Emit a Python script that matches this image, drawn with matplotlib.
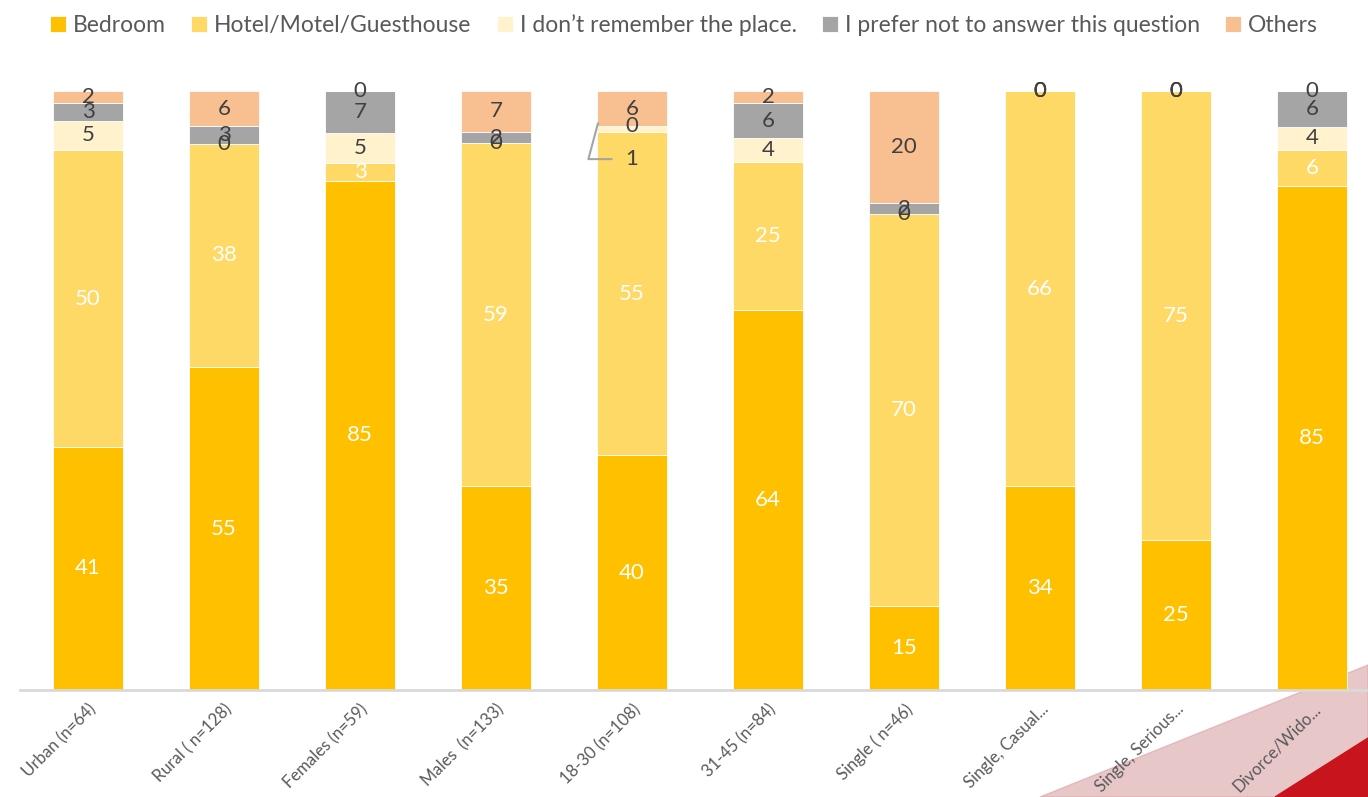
import matplotlib.pyplot as plt
from matplotlib.patches import Polygon
import numpy as np

plt.rcParams['font.family'] = ['Lato', 'DejaVu Sans']

# Dados
grupos = ["Urban (n=64)", "Rural ( n=128)", "Females (n=59)", "Males  (n=133)",
          "18-30 (n=108)", "31-45 (n=84)", "Single ( n=46)", "Single, Casual...",
          "Single, Serious...", "Divorce/Wido..."]
series = ["Bedroom", "Hotel/Motel/Guesthouse", "I don\u2019t remember the place.",
          "I prefer not to answer this question", "Others"]
bedroom = [41, 55, 85, 35, 40, 64, 15, 34, 25, 85]
hotel = [50, 38, 3, 59, 55, 25, 70, 66, 75, 6]
nao_lembra = [5, 0, 5, 0, 1, 4, 0, 0, 0, 4]
prefiro_nao = [3, 3, 7, 2, 0, 6, 2, 0, 0, 6]
outros = [2, 6, 0, 7, 6, 2, 20, 0, 0, 0]

cores = ["#FFC000", "#FFD966", "#FFF2CC", "#A5A5A5", "#F8BF91"]
cor_rotulo = ["white", "white", "#404040", "#404040", "#404040"]

valores = np.array([bedroom, hotel, nao_lembra, prefiro_nao, outros], dtype=float)
totais = valores.sum(axis=0)
perc = valores / totais * 100

fig = plt.figure(figsize=(13.68, 7.97), dpi=100)

# decoracao do slide (canto inferior direito)
W, H = 1368, 797
def px(pts):
    return [(x / W, 1 - y / H) for x, y in pts]
fig.patches.append(Polygon(px([(1040, 797), (1368, 665), (1368, 797)]), closed=True,
                           transform=fig.transFigure, color="#D9A3A6", alpha=0.6, zorder=-5))
fig.patches.append(Polygon(px([(1275, 797), (1368, 738), (1368, 797)]), closed=True,
                           transform=fig.transFigure, color="#C8141C", zorder=-4))

ax = fig.add_axes([20 / W, (H - 690) / H, 1360 / W, 599 / H])
ax.patch.set_alpha(0)

x = np.arange(len(grupos))
base = np.zeros(len(grupos))
for i, nome in enumerate(series):
    ax.bar(x, perc[i], 0.51, bottom=base, color=cores[i], label=nome,
           edgecolor="white", linewidth=0.6, zorder=2)
    for j in range(len(grupos)):
        # rotulo deslocado com linha guia (18-30, "1")
        if i == 2 and j == 4:
            ax.annotate(str(int(valores[i, j])), xy=(j - 0.25, base[j] + perc[i, j] / 2 + 1),
                        xytext=(j, base[j] + perc[i, j] / 2 - 5), ha="center", va="center",
                        fontsize=16, color=cor_rotulo[i], zorder=4,
                        arrowprops=dict(arrowstyle="-", color="#A5A5A5", lw=1.5,
                                        connectionstyle="angle,angleA=0,angleB=75,rad=0",
                                        shrinkA=8, shrinkB=0))
        else:
            ax.text(j, base[j] + perc[i, j] / 2, str(int(valores[i, j])), ha="center",
                    va="center", fontsize=16, color=cor_rotulo[i], zorder=4)
    base += perc[i]

ax.set_xlim(-0.5, len(grupos) - 0.5)
ax.set_ylim(0, 100)
ax.set_yticks([])
ax.set_xticks(x)
ax.set_xticklabels(grupos, rotation=45, ha="right", rotation_mode="anchor",
                   fontsize=12, color="#595959")
ax.tick_params(axis="x", length=0, pad=8)
for lado in ["top", "right", "left"]:
    ax.spines[lado].set_visible(False)
ax.spines["bottom"].set_color("#D9D9D9")
ax.spines["bottom"].set_linewidth(2)

leg = fig.legend(loc="upper center", bbox_to_anchor=(0.5, 1.008), ncol=5, frameon=False,
                 fontsize=16.5, handlelength=0.7, handleheight=0.7, handletextpad=0.3,
                 columnspacing=1.1, labelcolor="#595959")

plt.savefig("out.png", dpi=100)
